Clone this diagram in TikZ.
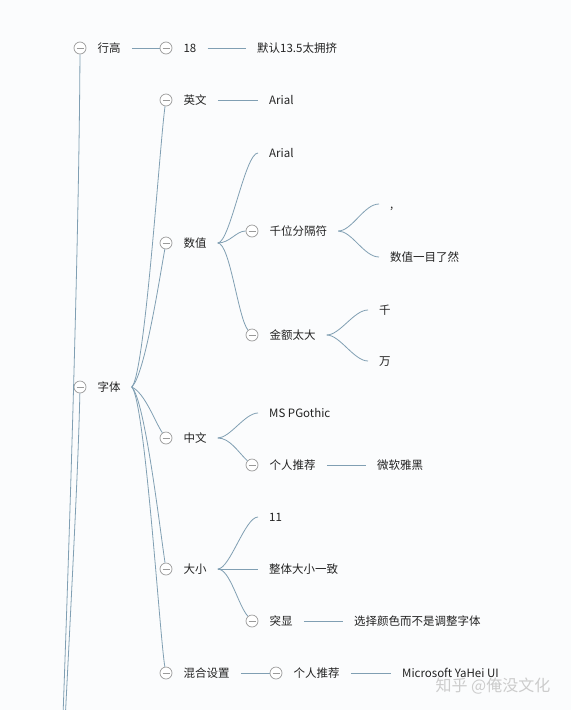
\documentclass[tikz,border=0pt]{standalone}
\usepackage{fontspec}
\setmainfont{Noto Sans CJK SC}
\usetikzlibrary{positioning}
\definecolor{linkc}{HTML}{809FB3}
\definecolor{foldc}{HTML}{9A9A9A}
\definecolor{txtc}{HTML}{222222}
\definecolor{bgc}{HTML}{FBFCFD}

\begin{document}
\begin{tikzpicture}[x=1pt,y=-1pt,font=\fontsize{11.5}{14}\selectfont]
  \tikzstyle{fold}=[circle,draw=foldc,fill=white,line width=0.7pt,minimum size=12pt,inner sep=0pt,
    path picture={\draw[foldc,line width=0.7pt] ([xshift=-3.5pt]path picture bounding box.center) -- ([xshift=3.5pt]path picture bounding box.center);}]
  \tikzstyle{topic}=[anchor=west,inner xsep=11pt,inner ysep=0pt,text height=8.5pt,text depth=0pt,text=txtc]
  \tikzstyle{link}=[draw=linkc,line width=0.8pt]

  \fill[bgc] (0,0) rectangle (571,710);
  \clip (0,0) rectangle (571,710);

  % first level
  \node[fold] (c-hh) at (80,48) {};
  \node[topic,right=0pt of c-hh] (hh) {行高};
  \node[fold] (c-zt) at (80,387) {};
  \node[topic,right=0pt of c-zt] (zt) {字体};
  \coordinate (root) at (56,900);

  % line height
  \node[fold] (c-18) at (166,48) {};
  \node[topic,right=0pt of c-18] (t18) {18};
  \node[topic] (mr) at (246,48) {默认13.5太拥挤};

  % fonts
  \node[fold] (c-yw) at (166,100) {};
  \node[topic,right=0pt of c-yw] (yw) {英文};
  \node[topic] (arial1) at (258,100) {Arial};

  \node[fold] (c-sz) at (166,243) {};
  \node[topic,right=0pt of c-sz] (sz) {数值};
  \node[topic] (arial2) at (258,153) {Arial};
  \node[fold] (c-qw) at (252,231) {};
  \node[topic,right=0pt of c-qw] (qw) {千位分隔符};
  \node[topic] (comma) at (379,204) {,};
  \node[topic] (mlrz) at (379,257) {数值一目了然};
  \node[fold] (c-je) at (252,335) {};
  \node[topic,right=0pt of c-je] (je) {金额太大};
  \node[topic] (qian) at (368,310) {千};
  \node[topic] (wan) at (368,361) {万};

  \node[fold] (c-zw) at (166,438) {};
  \node[topic,right=0pt of c-zw] (zw) {中文};
  \node[topic] (msp) at (258,413) {MS PGothic};
  \node[fold] (c-gr1) at (252,465) {};
  \node[topic,right=0pt of c-gr1] (gr1) {个人推荐};
  \node[topic] (wr) at (366,465) {微软雅黑};

  \node[fold] (c-dx) at (166,569) {};
  \node[topic,right=0pt of c-dx] (dx) {大小};
  \node[topic] (n11) at (258,517) {11};
  \node[topic] (ztyz) at (258,569) {整体大小一致};
  \node[fold] (c-tx) at (252,621) {};
  \node[topic,right=0pt of c-tx] (tx) {突显};
  \node[topic] (xz) at (343,621) {选择颜色而不是调整字体};

  \node[fold] (c-hs) at (166,673) {};
  \node[topic,right=0pt of c-hs] (hs) {混合设置};
  \node[fold] (c-gr2) at (276,673) {};
  \node[topic,right=0pt of c-gr2] (gr2) {个人推荐};
  \node[topic] (ms) at (391,673) {Microsoft YaHei UI};

  \node[anchor=west,text=gray!40,font=\fontsize{16}{18}\selectfont] (wm) at (432,686) {知乎 @俺没文化};

  % connectors
  \draw[link] (c-hh) .. controls (79,250) and (68,600) .. (root);
  \draw[link] (c-zt) .. controls (78,480) and (70,620) .. (root);

  \draw[link] (hh.east) -- (c-18);
  \draw[link] (t18.east) -- (mr.west);

  \draw[link] (zt.east) .. controls (145,375) and (160,140) .. (c-yw);
  \draw[link] (zt.east) .. controls (145,375) and (160,275) .. (c-sz);
  \draw[link] (zt.east) .. controls (145,393) and (155,422) .. (c-zw);
  \draw[link] (zt.east) .. controls (145,400) and (160,530) .. (c-dx);
  \draw[link] (zt.east) .. controls (145,400) and (160,640) .. (c-hs);

  \draw[link] (yw.east) -- (arial1.west);

  \draw[link] (sz.east) .. controls (230,243) and (245,153) .. (arial2.west);
  \draw[link] (sz.east) .. controls (230,243) and (236,231) .. (c-qw);
  \draw[link] (sz.east) .. controls (230,243) and (238,318) .. (c-je);
  \draw[link] (qw.east) .. controls (352,231) and (364,204) .. (comma.west);
  \draw[link] (qw.east) .. controls (352,231) and (364,257) .. (mlrz.west);
  \draw[link] (je.east) .. controls (340,335) and (354,310) .. (qian.west);
  \draw[link] (je.east) .. controls (340,335) and (354,361) .. (wan.west);

  \draw[link] (zw.east) .. controls (230,438) and (245,413) .. (msp.west);
  \draw[link] (zw.east) .. controls (230,438) and (238,452) .. (c-gr1);
  \draw[link] (gr1.east) -- (wr.west);

  \draw[link] (dx.east) .. controls (230,569) and (245,517) .. (n11.west);
  \draw[link] (dx.east) -- (ztyz.west);
  \draw[link] (dx.east) .. controls (230,569) and (238,605) .. (c-tx);
  \draw[link] (tx.east) -- (xz.west);

  \draw[link] (hs.east) -- (c-gr2);
  \draw[link] (gr2.east) -- (ms.west);

\end{tikzpicture}
\end{document}
